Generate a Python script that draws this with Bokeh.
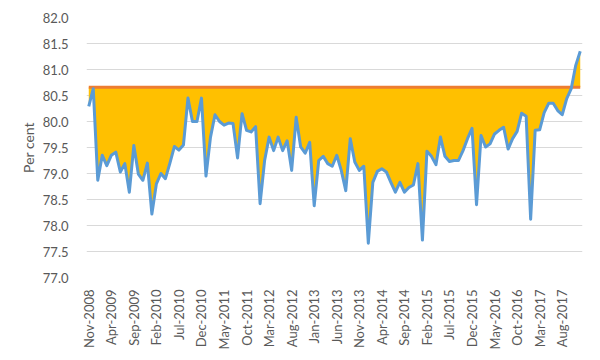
import math
from bokeh.plotting import figure
from bokeh.models import FixedTicker, NumeralTickFormatter, Range1d
from bokeh.embed import file_html
from bokeh.resources import INLINE

# Monthly series, Nov-2008 .. Dec-2017 (per cent)
values = [
    80.29, 80.63, 78.87, 79.35, 79.15, 79.35, 79.41, 79.03, 79.19, 78.64,
    79.54, 78.99, 78.87, 79.20, 78.22, 78.80, 79.00, 78.90, 79.20, 79.52,
    79.45, 79.55, 80.45, 80.00, 80.00, 80.45, 78.95, 79.70, 80.13, 80.00,
    79.93, 79.97, 79.96, 79.30, 80.15, 79.83, 79.80, 79.90, 78.42, 79.25,
    79.70, 79.44, 79.70, 79.44, 79.63, 79.06, 80.08, 79.51, 79.39, 79.60,
    78.38, 79.25, 79.33, 79.19, 79.14, 79.35, 79.06, 78.67, 79.67, 79.22,
    79.06, 79.14, 77.66, 78.83, 79.04, 79.09, 79.03, 78.83, 78.64, 78.83,
    78.64, 78.73, 78.78, 79.19, 77.72, 79.43, 79.33, 79.17, 79.70, 79.33,
    79.23, 79.25, 79.25, 79.44, 79.67, 79.87, 78.40, 79.73, 79.51, 79.57,
    79.76, 79.83, 79.89, 79.47, 79.67, 79.81, 80.16, 80.10, 78.12, 79.83,
    79.84, 80.17, 80.35, 80.35, 80.21, 80.13, 80.44, 80.63, 81.08, 81.35,
]
threshold = 80.66

tick_labels = [
    "Nov-2008", "Apr-2009", "Sep-2009", "Feb-2010", "Jul-2010", "Dec-2010",
    "May-2011", "Oct-2011", "Mar-2012", "Aug-2012", "Jan-2013", "Jun-2013",
    "Nov-2013", "Apr-2014", "Sep-2014", "Feb-2015", "Jul-2015", "Dec-2015",
    "May-2016", "Oct-2016", "Mar-2017", "Aug-2017",
]
tick_step = 5
y_ticks = [77.0, 77.5, 78.0, 78.5, 79.0, 79.5, 80.0, 80.5, 81.0, 81.5, 82.0]

x = list(range(len(values)))
thr = [threshold] * len(values)
n = len(values)

p = figure(frame_width=496, frame_height=260,
           min_border_left=86, min_border_right=16,
           min_border_top=17, min_border_bottom=66,
           x_range=Range1d(-0.5, n - 0.5), y_range=Range1d(y_ticks[0], y_ticks[-1]),
           output_backend="svg", toolbar_location=None)
p.outline_line_color = None
p.background_fill_color = "white"
p.border_fill_color = "white"

p.varea(x=x, y1=values, y2=thr, fill_color="#FFC000")
p.line(x=x, y=thr, line_color="#ED7D31", line_width=3)
p.line(x=x, y=values, line_color="#5B9BD5", line_width=3, line_join="round")

font = "Lato"
grey = "#595959"

p.xgrid.visible = False
p.ygrid.grid_line_color = "#D9D9D9"
p.ygrid.grid_line_width = 1

yax = p.yaxis[0]
yax.ticker = FixedTicker(ticks=y_ticks)
yax.formatter = NumeralTickFormatter(format="0.0")
yax.axis_line_color = None
yax.major_tick_line_color = None
yax.minor_tick_line_color = None
yax.major_label_standoff = 12
yax.major_label_text_font = font
yax.major_label_text_font_size = "13px"
yax.major_label_text_color = grey
yax.axis_label = "Per cent"
yax.axis_label_text_font = font
yax.axis_label_text_font_size = "14px"
yax.axis_label_text_font_style = "normal"
yax.axis_label_text_color = grey
yax.axis_label_standoff = 3

xax = p.xaxis[0]
ticks = [i * tick_step for i in range(len(tick_labels))]
xax.ticker = FixedTicker(ticks=ticks)
xax.major_label_overrides = {t: lab for t, lab in zip(ticks, tick_labels)}
xax.major_label_orientation = math.pi / 2
xax.axis_line_color = None
xax.major_tick_line_color = None
xax.minor_tick_line_color = None
xax.major_label_standoff = 6
xax.major_label_text_font = font
xax.major_label_text_font_size = "13px"
xax.major_label_text_color = grey

open("out.html", "w").write(file_html(p, INLINE))
